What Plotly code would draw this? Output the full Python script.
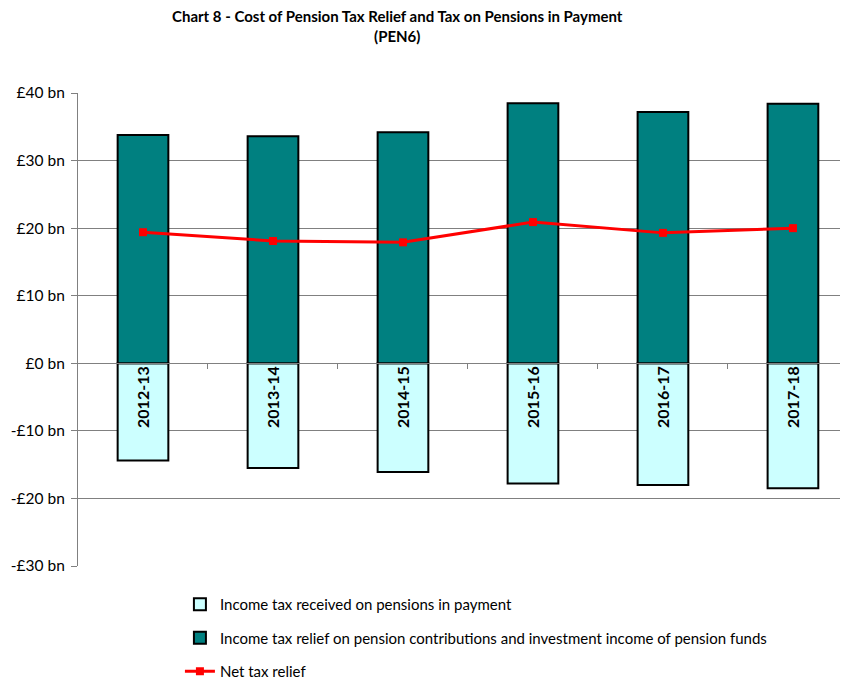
import plotly.graph_objects as go

years = ["2012-13", "2013-14", "2014-15", "2015-16", "2016-17", "2017-18"]
relief = [33.8, 33.6, 34.2, 38.5, 37.2, 38.4]
received = [-14.4, -15.5, -16.1, -17.8, -18.0, -18.5]
net = [19.4, 18.1, 17.9, 20.9, 19.3, 20.0]
ytick_vals = [-30, -20, -10, 0, 10, 20, 30, 40]
ytick_text = ["-£30 bn", "-£20 bn", "-£10 bn", "£0 bn", "£10 bn", "£20 bn", "£30 bn", "£40 bn"]

xpos = list(range(len(years)))
font = "Lato, 'Open Sans', Arial, sans-serif"

fig = go.Figure()
fig.add_trace(go.Bar(
    x=xpos, y=received, name="Income tax received on pensions in payment",
    marker=dict(color="#CCFFFF", line=dict(color="black", width=2)),
    width=0.39, legendgroup="a",
    text=["<b>%s</b>" % y for y in years], textposition="inside",
    insidetextanchor="start", textangle=-90,
    textfont=dict(family=font, size=16, color="black"),
    cliponaxis=False,
))
fig.add_trace(go.Bar(
    x=xpos, y=relief,
    name="Income tax relief on pension contributions and investment income of pension funds",
    marker=dict(color="#008080", line=dict(color="black", width=2)),
    width=0.39, legendgroup="b",
))
fig.add_trace(go.Scatter(
    x=xpos, y=net, name="Net tax relief", mode="lines+markers",
    line=dict(color="#FF0000", width=3),
    marker=dict(symbol="square", size=8, color="#FF0000"),
    legendgroup="c",
))

fig.update_layout(
    width=848, height=679,
    margin=dict(l=70, r=0, t=85, b=121, autoexpand=False),
    paper_bgcolor="white", plot_bgcolor="white",
    barmode="relative",
    font=dict(family=font, size=15, color="black"),
    title=dict(
        text="<b>Chart 8 - Cost of Pension Tax Relief and Tax on Pensions in Payment<br>(PEN6)</b>",
        x=0.459, xanchor="center", y=0.979, yanchor="top", yref="container",
        font=dict(family=font, size=15, color="black"),
    ),
    xaxis=dict(
        range=[-0.5, 5.485], showgrid=False, zeroline=False,
        tickvals=[0.5, 1.5, 2.5, 3.5, 4.5], ticks="outside", ticklen=5,
        tickcolor="#808080", showticklabels=False,
        showline=True, linecolor="#808080", linewidth=1,
        anchor="free", position=30 / 70,
    ),
    yaxis=dict(
        range=[-30, 40], tickvals=ytick_vals, ticktext=ytick_text,
        showgrid=True, gridcolor="#808080", gridwidth=1,
        zeroline=False, showline=True, linecolor="#808080", linewidth=1,
        ticks="outside", ticklen=6, tickcolor="#808080",
        tickfont=dict(family=font, size=15.5),
        ticklabelstandoff=3,
    ),
    legend=dict(
        x=0.131, xanchor="left", y=-0.0465, yanchor="top",
        orientation="v", traceorder="grouped", tracegroupgap=11,
        font=dict(family=font, size=15),
        bgcolor="rgba(0,0,0,0)",
    ),
    showlegend=True,
)

fig.write_html("out.html")
